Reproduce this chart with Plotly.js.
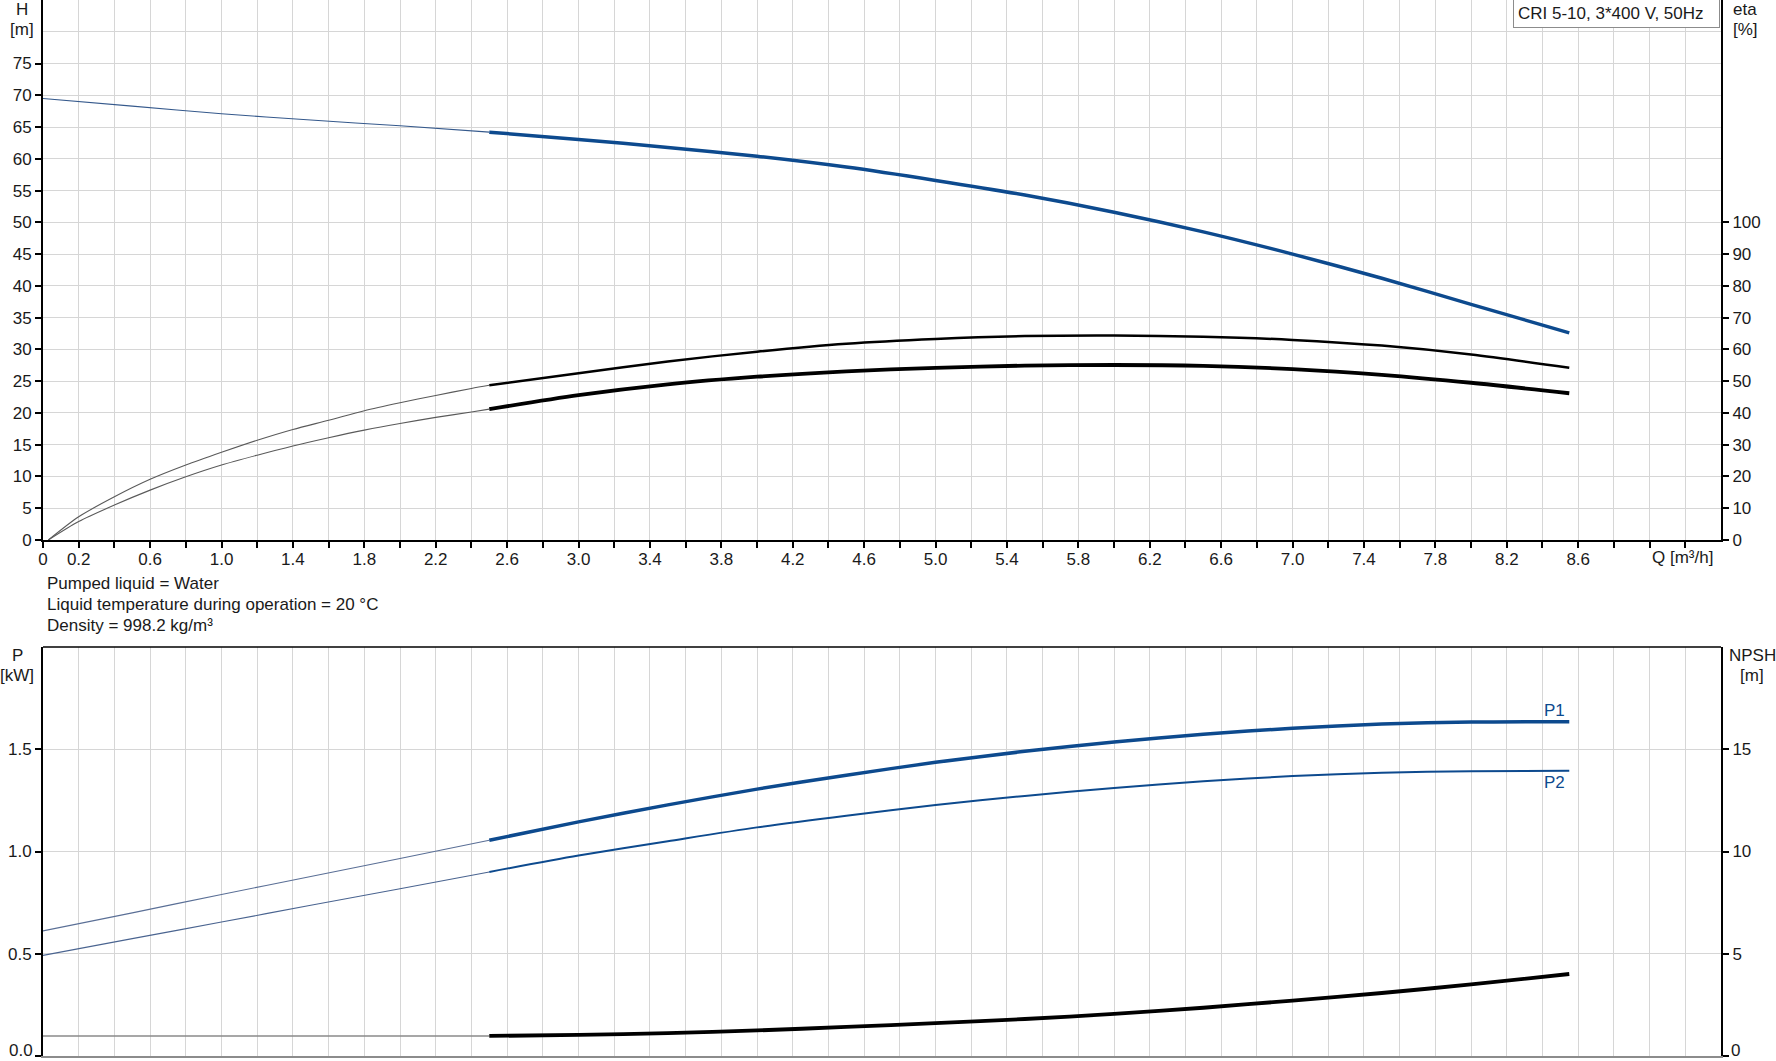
<!DOCTYPE html>
<html>
<head>
<meta charset="utf-8">
<script src="https://cdn.plot.ly/plotly-3.0.1.min.js"></script>
<style>
html,body{margin:0;padding:0;background:#fff;}
#chart{width:1776px;height:1061px;}
</style>
</head>
<body>
<div id="chart"></div>
<script>
// ---------- data ----------
// Flow Q [m³/h]
const qThinH   = [0, 0.5, 1.0, 1.5, 2.0, 2.5];
const qThinEta = [0.03, 0.2, 0.4, 0.6, 0.8, 1.0, 1.2, 1.4, 1.6, 1.8, 2.0, 2.2, 2.4, 2.5];
const qThick   = [2.5, 3.0, 3.5, 4.0, 4.5, 5.0, 5.5, 6.0, 6.5, 7.0, 7.5, 8.0, 8.55];

// Head H [m]
const headThin  = [69.5, 68.3, 67.1, 66.1, 65.2, 64.2];
const headThick = [64.2, 63.05, 61.8, 60.4, 58.7, 56.6, 54.3, 51.6, 48.5, 45.0, 41.2, 37.1, 32.6];

// Efficiency eta [%]
const etaUpperThin  = [0, 7.3, 13.6, 19.1, 23.6, 27.6, 31.4, 34.8, 37.7, 40.7, 43.2, 45.5, 47.7, 48.7];
const etaUpperThick = [48.7, 52.5, 56.2, 59.3, 61.8, 63.3, 64.2, 64.4, 64.0, 63.0, 61.2, 58.4, 54.2];
const etaLowerThin  = [0, 5.8, 11.0, 15.7, 19.9, 23.6, 26.7, 29.6, 32.2, 34.6, 36.7, 38.6, 40.3, 41.2];
const etaLowerThick = [41.2, 45.6, 49.0, 51.4, 53.1, 54.2, 54.9, 55.1, 54.8, 53.8, 52.0, 49.5, 46.2];

// Power P [kW]
const p1Thin  = [0.612, 0.700, 0.790, 0.878, 0.966, 1.055];
const p1Thick = [1.055, 1.145, 1.228, 1.305, 1.373, 1.436, 1.490, 1.535, 1.573, 1.603, 1.623, 1.633, 1.635];
const p2Thin  = [0.492, 0.574, 0.655, 0.737, 0.818, 0.900];
const p2Thick = [0.900, 0.980, 1.050, 1.118, 1.175, 1.227, 1.272, 1.311, 1.344, 1.369, 1.385, 1.393, 1.395];

// NPSH [m]
const npshThin  = [0.98, 0.98, 0.98, 0.98, 0.98, 0.98];
const npshThick = [0.98, 1.03, 1.12, 1.25, 1.42, 1.61, 1.81, 2.06, 2.36, 2.71, 3.08, 3.50, 4.01];

// Tick labels
const qTicks = [0,0.2,0.4,0.6,0.8,1.0,1.2,1.4,1.6,1.8,2.0,2.2,2.4,2.6,2.8,3.0,3.2,3.4,3.6,3.8,4.0,4.2,4.4,4.6,4.8,5.0,5.2,5.4,5.6,5.8,6.0,6.2,6.4,6.6,6.8,7.0,7.2,7.4,7.6,7.8,8.0,8.2,8.4,8.6,8.8,9.0,9.2];
const qTickText = ['0','0.2','','0.6','','1.0','','1.4','','1.8','','2.2','','2.6','','3.0','','3.4','','3.8','','4.2','','4.6','','5.0','','5.4','','5.8','','6.2','','6.6','','7.0','','7.4','','7.8','','8.2','','8.6','','',''];
const hTicks = [0,5,10,15,20,25,30,35,40,45,50,55,60,65,70,75];
const etaTicks = [0,10,20,30,40,50,60,70,80,90,100];
const pTicks = [0, 0.5, 1.0, 1.5];
const pTickText = ['', '0.5', '1.0', '1.5'];   // "0.0" drawn separately so it stays inside the page
const npshTicks = [0, 5, 10, 15];
const npshTickText = ['', '5', '10', '15'];   // "0" drawn separately
const pZeroLabel = '0.0';
const npshZeroLabel = '0';

const infoLines = ['Pumped liquid = Water', 'Liquid temperature during operation = 20 °C', 'Density = 998.2 kg/m³'];
const modelLabel = 'CRI 5-10, 3*400 V, 50Hz';

// ---------- styling ----------
const BLUE = '#0d4a8e';
const FONT = 'Liberation Sans, Arial, sans-serif';
const FS = 17;
const TXT = '#1a1a1a';
const GRID = '#d6d6d6';
const W = 1776, H = 1061;
const xDom = [43 / W, 1721 / W];
const topDom = [(H - 540) / H, 1];
const botDom = [(H - 1056) / H, (H - 647) / H];

const spl = {shape: 'spline', smoothing: 0.8};
function ln(color, width) { return Object.assign({color: color, width: width}, spl); }

const traces = [
  {x: qThinH, y: headThin, xaxis: 'x', yaxis: 'y', mode: 'lines', line: ln('#35598c', 1.1)},
  {x: qThick, y: headThick, xaxis: 'x', yaxis: 'y', mode: 'lines', line: ln(BLUE, 3.5)},
  {x: qThinEta, y: etaUpperThin, xaxis: 'x', yaxis: 'y2', mode: 'lines', line: ln('#5a5a5a', 1.1)},
  {x: qThick, y: etaUpperThick, xaxis: 'x', yaxis: 'y2', mode: 'lines', line: ln('#000', 2.5)},
  {x: qThinEta, y: etaLowerThin, xaxis: 'x', yaxis: 'y2', mode: 'lines', line: ln('#5a5a5a', 1.1)},
  {x: qThick, y: etaLowerThick, xaxis: 'x', yaxis: 'y2', mode: 'lines', line: ln('#000', 3.8)},
  {x: qThinH, y: p1Thin, xaxis: 'x2', yaxis: 'y3', mode: 'lines', line: ln('#5a6f96', 1.1)},
  {x: qThick, y: p1Thick, xaxis: 'x2', yaxis: 'y3', mode: 'lines', line: ln(BLUE, 3.5)},
  {x: qThinH, y: p2Thin, xaxis: 'x2', yaxis: 'y3', mode: 'lines', line: ln('#4a6490', 1.1)},
  {x: qThick, y: p2Thick, xaxis: 'x2', yaxis: 'y3', mode: 'lines', line: ln(BLUE, 2.0)},
  {x: qThinH, y: npshThin, xaxis: 'x2', yaxis: 'y4', mode: 'lines', line: ln('#8a8a8a', 1.6)},
  {x: qThick, y: npshThick, xaxis: 'x2', yaxis: 'y4', mode: 'lines', line: ln('#000', 3.8)}
];

const tickFont = {family: FONT, size: FS, color: TXT};
const baseY = {
  showline: true, linecolor: '#000', linewidth: 2, ticks: 'outside', ticklen: 6, tickwidth: 2,
  tickcolor: '#000', zeroline: false, tickfont: tickFont, ticklabeloverflow: 'allow'
};

const layout = {
  width: W, height: H, autosize: false,
  margin: {l: 0, r: 0, t: 0, b: 0, pad: 0},
  paper_bgcolor: '#fff', plot_bgcolor: '#fff',
  showlegend: false,
  font: {family: FONT, color: TXT, size: FS},
  xaxis: {
    domain: xDom, anchor: 'y', range: [0, 9.4], tickmode: 'array', tickvals: qTicks, ticktext: qTickText,
    showgrid: true, gridcolor: GRID, gridwidth: 1, showline: true, linecolor: '#000', linewidth: 2,
    ticks: 'outside', ticklen: 6, tickwidth: 2, tickcolor: '#000', zeroline: false, tickfont: tickFont,
    ticklabeloverflow: 'allow', ticklabelstandoff: -3
  },
  yaxis: Object.assign({}, baseY, {
    domain: topDom, anchor: 'x', range: [0, 85], tickmode: 'array', tickvals: hTicks,
    showgrid: true, gridcolor: GRID, gridwidth: 1,
    minor: {tick0: 0, dtick: 5, showgrid: true, gridcolor: GRID, gridwidth: 1, ticks: ''}
  }),
  yaxis2: Object.assign({}, baseY, {
    overlaying: 'y', side: 'right', anchor: 'x', range: [0, 170], tickmode: 'array', tickvals: etaTicks,
    showgrid: false
  }),
  xaxis2: {
    domain: xDom, anchor: 'y3', range: [0, 9.4], tickmode: 'array', tickvals: qTicks,
    showticklabels: false, ticks: '', showgrid: true, gridcolor: GRID, gridwidth: 1,
    showline: true, linecolor: '#8c8c8c', linewidth: 1.5, zeroline: false
  },
  yaxis3: Object.assign({}, baseY, {
    domain: botDom, anchor: 'x2', range: [0, 2.0], tickmode: 'array', tickvals: pTicks, ticktext: pTickText,
    showgrid: true, gridcolor: GRID, gridwidth: 1
  }),
  yaxis4: Object.assign({}, baseY, {
    overlaying: 'y3', side: 'right', anchor: 'x2', range: [0, 20], tickmode: 'array', tickvals: npshTicks,
    ticktext: npshTickText, showgrid: false
  }),
  shapes: [
    {type: 'line', xref: 'paper', yref: 'paper', x0: xDom[0], x1: xDom[1], y0: botDom[1], y1: botDom[1],
     line: {color: '#000', width: 1.5}}
  ],
  annotations: []
};

function label(text, xpx, ypx, opts) {
  return Object.assign({
    text: text, xref: 'paper', yref: 'paper', x: xpx / W, y: 1 - ypx / H,
    xanchor: 'center', yanchor: 'middle', showarrow: false,
    font: {family: FONT, size: FS, color: TXT}
  }, opts || {});
}

layout.annotations.push(label('H', 22, 10));
layout.annotations.push(label('[m]', 22, 30));
layout.annotations.push(label('eta', 1745, 10));
layout.annotations.push(label('[%]', 1745, 30));
layout.annotations.push(label('Q [m³/h]', 1682, 557));
layout.annotations.push(label('P', 17, 655));
layout.annotations.push(label('[kW]', 17, 675));
layout.annotations.push(label('NPSH', 1752, 655));
layout.annotations.push(label('[m]', 1752, 675));
layout.annotations.push(label(pZeroLabel, 34, 1050, {xanchor: 'right', borderpad: 0}));
layout.annotations.push(label(npshZeroLabel, 1730, 1050, {xanchor: 'left', borderpad: 0}));
infoLines.forEach(function (t, i) {
  layout.annotations.push(label(t, 45, 583 + i * 21.3, {xanchor: 'left'}));
});
layout.annotations.push({
  text: 'P1', xref: 'x2', yref: 'y3', x: 8.47, y: 1.69, showarrow: false,
  xanchor: 'center', yanchor: 'middle', font: {family: FONT, size: FS, color: BLUE}
});
layout.annotations.push({
  text: 'P2', xref: 'x2', yref: 'y3', x: 8.47, y: 1.335, showarrow: false,
  xanchor: 'center', yanchor: 'middle', font: {family: FONT, size: FS, color: BLUE}
});
layout.annotations.push({
  text: modelLabel, xref: 'paper', yref: 'paper', x: 1720 / W, y: 1 + 2 / H,
  xanchor: 'right', yanchor: 'top', showarrow: false, align: 'left',
  width: 197, height: 20,
  font: {family: FONT, size: FS, color: TXT},
  bordercolor: '#8c8c8c', borderwidth: 1, borderpad: 4, bgcolor: '#fff'
});

Plotly.newPlot('chart', traces, layout, {displayModeBar: false, staticPlot: true});
</script>
</body>
</html>
